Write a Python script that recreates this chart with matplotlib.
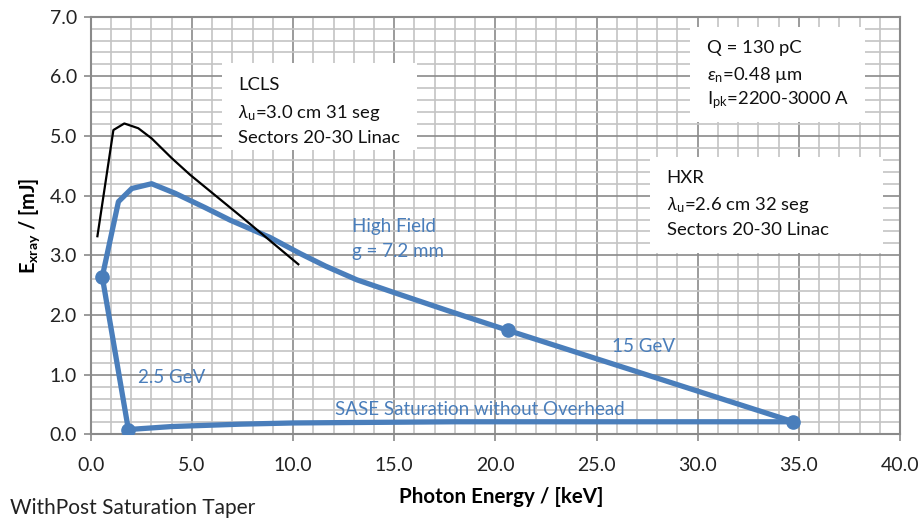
import matplotlib
matplotlib.use("Agg")
import matplotlib.pyplot as plt
from matplotlib.patches import Rectangle
from matplotlib.ticker import MultipleLocator, FormatStrFormatter

plt.rcParams['font.family'] = ['Lato', 'DejaVu Sans']
plt.rcParams['mathtext.fontset'] = 'custom'
plt.rcParams['mathtext.rm'] = 'Lato'
plt.rcParams['mathtext.it'] = 'Lato:italic'
plt.rcParams['mathtext.bf'] = 'Lato:bold'

BLUE = '#4a7ebb'

# LCLS reference curve (photon energy keV, pulse energy mJ)
lcls_x = [0.33, 1.12, 1.66, 2.35, 3.01, 4.00, 4.91, 7.54, 10.26]
lcls_y = [3.32, 5.10, 5.21, 5.13, 4.96, 4.63, 4.35, 3.62, 2.85]

# High field branch (g = 7.2 mm)
hf_x = [0.57, 1.37, 2.03, 3.01, 4.17, 5.65, 6.89, 8.86, 10.35, 11.6,
        13.15, 15.13, 17.76, 20.64]
hf_y = [2.64, 3.90, 4.12, 4.20, 4.04, 3.80, 3.59, 3.30, 3.03, 2.82,
        2.59, 2.36, 2.06, 1.74]

# 15 GeV branch
gev15_x = [20.64, 34.73]
gev15_y = [1.74, 0.21]

# SASE saturation without overhead
sase_x = [1.86, 4.0, 7.4, 10.0, 18.0, 34.73]
sase_y = [0.08, 0.13, 0.17, 0.19, 0.21, 0.21]

# 2.5 GeV branch
gev25_x = [0.57, 1.86]
gev25_y = [2.64, 0.08]

# Corner points of the operating envelope
corner_x = [0.57, 1.86, 20.64, 34.73]
corner_y = [2.64, 0.08, 1.74, 0.21]

xticks = [0.0, 5.0, 10.0, 15.0, 20.0, 25.0, 30.0, 35.0, 40.0]
yticks = [0.0, 1.0, 2.0, 3.0, 4.0, 5.0, 6.0, 7.0]

fig = plt.figure(figsize=(9.23, 5.23), dpi=100)
ax = fig.add_axes([0.0983, 0.1696, 0.8768, 0.7985])

ax.set_xlim(0, 40)
ax.set_ylim(0, 7)
ax.set_xticks(xticks)
ax.set_yticks(yticks)
ax.xaxis.set_minor_locator(MultipleLocator(1.0))
ax.yaxis.set_minor_locator(MultipleLocator(0.2))
ax.xaxis.set_major_formatter(FormatStrFormatter('%.1f'))
ax.yaxis.set_major_formatter(FormatStrFormatter('%.1f'))

ax.grid(which='minor', color='#c4c4c4', linewidth=1.2, zorder=0)
ax.grid(which='major', color='#8a8a8a', linewidth=1.2, zorder=0)
ax.set_axisbelow(True)
for s in ax.spines.values():
    s.set_color('#8a8a8a')
    s.set_linewidth(1.5)
ax.tick_params(which='major', direction='out', length=5, width=1.2,
               color='#8a8a8a', labelsize=14, labelcolor='#222222')
ax.tick_params(axis='x', which='major', pad=11)
ax.tick_params(axis='y', which='major', pad=5)
ax.tick_params(which='minor', length=0)

lw = 3.8
ax.plot(hf_x, hf_y, color=BLUE, lw=lw, solid_capstyle='round',
        solid_joinstyle='round', zorder=3)
ax.plot(gev15_x, gev15_y, color=BLUE, lw=lw, solid_capstyle='round', zorder=3)
ax.plot(sase_x, sase_y, color=BLUE, lw=lw, solid_capstyle='round', zorder=3)
ax.plot(gev25_x, gev25_y, color=BLUE, lw=lw, solid_capstyle='round', zorder=3)
ax.plot(corner_x, corner_y, linestyle='none', marker='o', markersize=9.5,
        color=BLUE, zorder=4)
ax.plot(lcls_x, lcls_y, color='black', lw=1.6, solid_joinstyle='round',
        zorder=5)

# Parameter boxes
boxes = [
    (6.49, 4.77, 9.64, 1.45),
    (29.62, 5.23, 8.65, 1.60),
    (27.65, 3.04, 11.51, 1.61),
]
for bx, by, bw, bh in boxes:
    ax.add_patch(Rectangle((bx, by), bw, bh, facecolor='white',
                           edgecolor='none', zorder=2))

box_fs = 13.3
lines = [
    (7.28, 5.86, 'LCLS'),
    (7.28, 5.38, r'$\lambda_\mathrm{u}$=3.0 cm 31 seg'),
    (7.28, 4.96, 'Sectors 20-30 Linac'),
    (30.46, 6.47, 'Q = 130 pC'),
    (30.46, 6.02, r'$\varepsilon_\mathrm{n}$=0.48 µm'),
    (30.46, 5.60, r'I$_\mathrm{pk}$=2200-3000 A'),
    (28.47, 4.29, 'HXR'),
    (28.47, 3.84, r'$\lambda_\mathrm{u}$=2.6 cm 32 seg'),
    (28.47, 3.42, 'Sectors 20-30 Linac'),
]
for tx, ty, s in lines:
    ax.text(tx, ty, s, fontsize=box_fs, color='#111111', ha='left',
            va='center', zorder=6)

lab_fs = 13.5
ax.text(12.9, 3.48, 'High Field', color=BLUE, fontsize=lab_fs,
        va='center', ha='left', zorder=6)
ax.text(12.9, 3.06, 'g = 7.2 mm', color=BLUE, fontsize=lab_fs,
        va='center', ha='left', zorder=6)
ax.text(2.34, 0.955, '2.5 GeV', color=BLUE, fontsize=lab_fs,
        va='center', ha='left', zorder=6)
ax.text(25.75, 1.48, '15 GeV', color=BLUE, fontsize=lab_fs,
        va='center', ha='left', zorder=6)
ax.text(12.08, 0.41, 'SASE Saturation without Overhead', color=BLUE,
        fontsize=lab_fs, va='center', ha='left', zorder=6)

ax.set_xlabel('Photon Energy / [keV]', fontsize=14.8, fontweight='bold',
              va='center')
ax.xaxis.set_label_coords(0.507, -0.150)
ax.set_ylabel(r'E$_\mathbf{xray}$ / [mJ]', fontsize=14.4, fontweight='bold',
              va='center')
ax.yaxis.set_label_coords(-0.075, 0.5)

fig.text(0.011, 0.029, 'WithPost Saturation Taper', fontsize=15,
         color='#222222', ha='left', va='center')

fig.savefig('out.png', dpi=100, facecolor='white')
